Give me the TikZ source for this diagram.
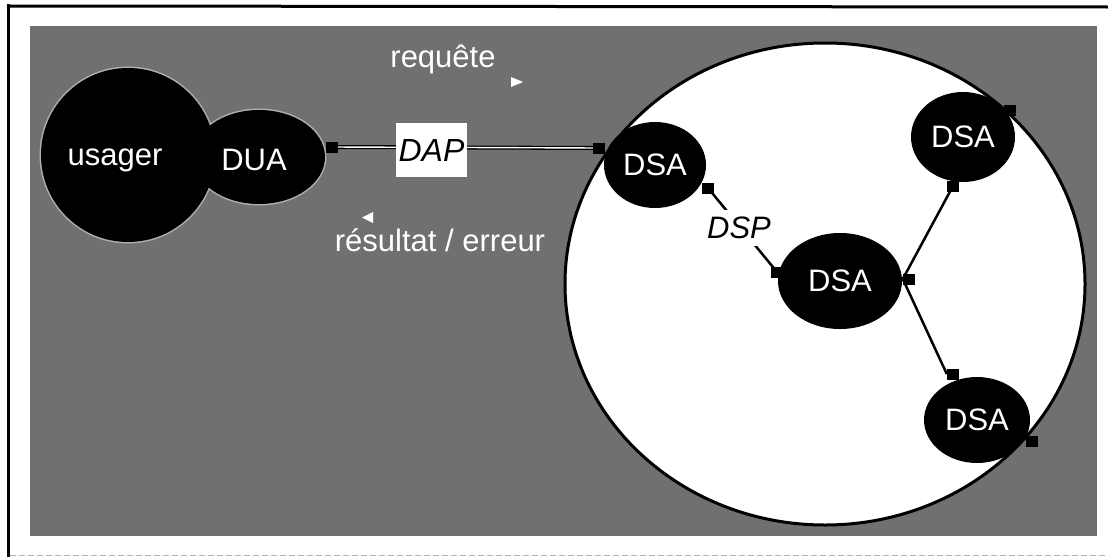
\documentclass[tikz,border=0pt]{standalone}
\usepackage{fontspec}
\setmainfont{Liberation Sans}
\usetikzlibrary{shapes.geometric}
\pgfdeclarelayer{back}
\pgfdeclarelayer{mid}
\pgfsetlayers{back,mid,main}
\definecolor{panelgray}{RGB}{112,112,112}
\definecolor{halogray}{RGB}{175,175,175}
\begin{document}
\begin{tikzpicture}[x=1pt,y=-1pt,
  txt/.style={font=\fontsize{31}{36}\selectfont, inner sep=0pt},
  itxt/.style={font=\fontsize{31}{36}\selectfont\itshape},
  agent/.style={ellipse, fill=black, inner sep=0pt, text=white,
                font=\fontsize{31}{36}\selectfont},
  tab/.style={rectangle, fill=black, minimum width=12pt, minimum height=11pt, inner sep=0pt},
  link/.style={line width=2.5pt, black},
  halo/.style={halogray, line width=3pt},
]
\useasboundingbox (0,0) rectangle (1108,557);

% frame, grey panel and the directory domain
\begin{pgfonlayer}{back}
  \fill[panelgray] (30,26) rectangle (1097,536);
  \draw[line width=3pt] (8.5,4) -- (8.5,557);
  \draw[line width=3pt] (7,6) -- (1108,7);
  \draw[gray!60, line width=0.8pt, dash pattern=on 6pt off 3pt] (10,555) -- (1108,555);
  \node[ellipse, minimum width=520pt, minimum height=482pt, fill=white,
        draw=black, line width=3pt] (domain) at (825,284) {};
\end{pgfonlayer}

% user side
\node[agent, minimum width=174pt, minimum height=174pt] (usager) at (128,155) {};
\node[agent, minimum width=132pt, minimum height=94pt] (dua) at (259,157) {};
\node[txt, text=white, anchor=base] (usagerlbl) at (115,165) {usager};
\node[txt, text=white, anchor=base] (dualbl) at (254,170) {DUA};
\node[tab] (duatab) at (332,147) {};

% protocol labels
\node[itxt, fill=white, minimum width=71pt, minimum height=54pt, inner sep=0pt,
      font=\fontsize{32}{36}\selectfont\itshape] (dap) at (431.5,150) {DAP};
\node[itxt, fill=white, inner sep=7pt] (dsp) at (739,228) {DSP};

% directory system agents
\node[tab] (dsa1w)  at (599,148) {};
\node[tab] (dsa1se) at (708,188) {};
\node[tab] (dsa2w)  at (777,272) {};
\node[tab] (dsa2e)  at (909,279) {};
\node[tab] (dsa3s)  at (953,186) {};
\node[tab] (dsa3ne) at (1010,110) {};
\node[tab] (dsa4n)  at (953,374) {};
\node[tab] (dsa4se) at (1032,441) {};

\node[agent, minimum width=102pt, minimum height=86pt] (dsa1) at (655,165) {DSA};
\node[agent, minimum width=124pt, minimum height=96pt] (dsa2) at (840,281) {DSA};
\node[agent, minimum width=104pt, minimum height=90pt] (dsa3) at (963,137) {DSA};
\node[agent, minimum width=106pt, minimum height=86pt] (dsa4) at (977,420) {DSA};

% request / result captions with their direction marks
\node[txt, text=white, anchor=base] (req) at (443,67) {requête};
\node[txt, text=white, anchor=base] (res) at (440,251) {résultat / erreur};
\fill[white] (511,77) -- (523,82) -- (511,87) -- cycle;
\fill[white] (373,212) -- (362,217.5) -- (373,223) -- cycle;

% connectors, under the agents
\begin{pgfonlayer}{mid}
  \draw[halo] (usager.center) ellipse [x radius=87pt, y radius=87pt];
  \draw[halo] (dua.center) ellipse [x radius=66pt, y radius=47pt];
  \draw[line width=4pt, black] (duatab.center) -- (dsa1w.center);
  \draw[line width=1.4pt, white] (duatab.center) -- (dsa1w.center);
  \draw[link] (dsa1se.center) -- (dsa2w.center);
  \draw[link] (dsa2e.west) -- (dsa3s.center);
  \draw[link] (dsa2e.west) -- (dsa4n.west);
\end{pgfonlayer}
\end{tikzpicture}
\end{document}
